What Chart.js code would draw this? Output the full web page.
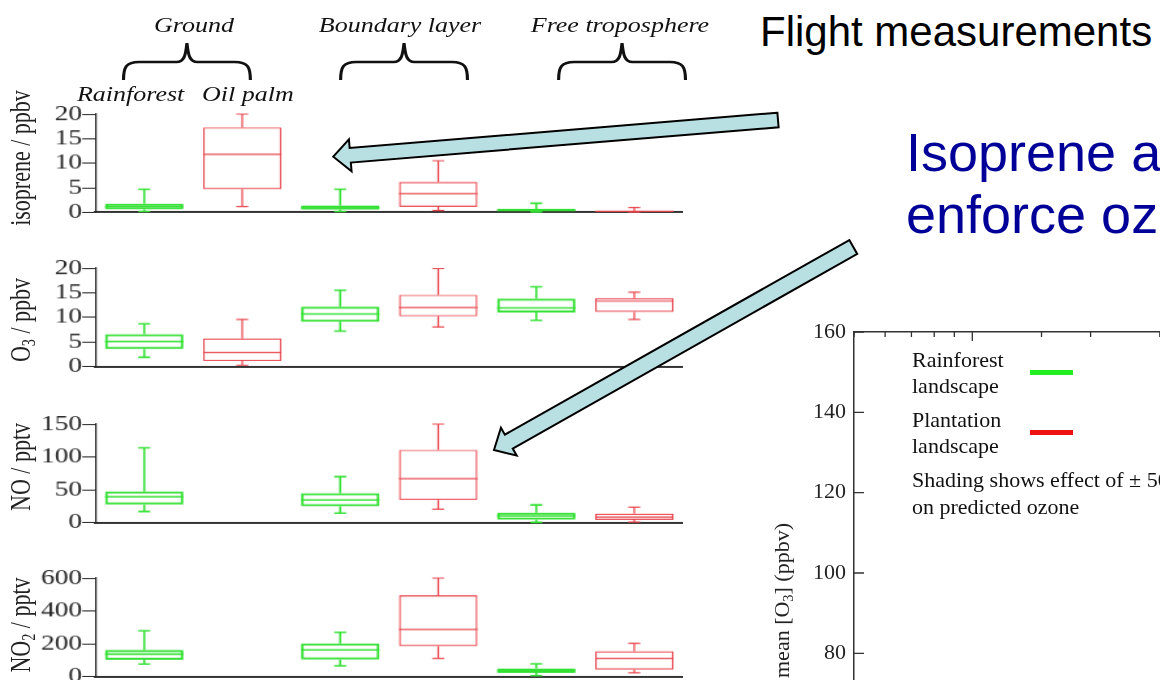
<!DOCTYPE html>
<html>
<head>
<meta charset="utf-8">
<script src="https://cdn.jsdelivr.net/npm/chart.js@4.4.1/dist/chart.umd.min.js"></script>
<style>
  html, body { margin: 0; padding: 0; background: #fff; }
  body { width: 1160px; height: 680px; position: relative; overflow: hidden; font-family: "Liberation Sans", Arial, sans-serif; }
  .serif { font-family: "Liberation Serif", "Times New Roman", serif; }
  .lbl { position: absolute; white-space: nowrap; line-height: 1; color: #111; }
  #fig { position: absolute; left: 0; top: 0; width: 554px; height: 680px; transform: scaleX(1.3); transform-origin: 0 0; }
  .panel { position: absolute; left: 0; width: 524.6px; }
  .ytitle { position: absolute; width: 200px; text-align: center; white-space: nowrap; font-size: 22px; line-height: 22px; transform-origin: 0 0; transform: rotate(-90deg); color: #222; }
  sub { font-size: 0.65em; vertical-align: -0.3em; line-height: 0; }
  #right { position: absolute; left: 700px; top: 300px; width: 557px; height: 544px; }
  .swatch { position: absolute; width: 43px; height: 5px; }
  #arrows { position: absolute; left: 0; top: 0; }
</style>
</head>
<body>

<div id="fig" class="serif">
  <div class="lbl" style="left:49.2px; top:15.25px; width:200px; text-align:center; font-size:20px; font-style:italic">Ground</div>
  <div class="lbl" style="left:207.7px; top:15.25px; width:200px; text-align:center; font-size:20px; font-style:italic">Boundary layer</div>
  <div class="lbl" style="left:376.9px; top:15.25px; width:200px; text-align:center; font-size:20px; font-style:italic">Free troposphere</div>
  <svg id="braces" width="554" height="100" style="position:absolute;left:0;top:0"></svg>
  <div class="lbl" style="left:59.2px; top:84.25px; font-size:20px; font-style:italic">Rainforest</div>
  <div class="lbl" style="left:155.4px; top:84.25px; font-size:20px; font-style:italic">Oil palm</div>

  <div class="ytitle" style="left:5.2px; top:258px">isoprene / ppbv</div>
  <div class="ytitle" style="left:5.2px; top:420px">O<sub>3</sub> / ppbv</div>
  <div class="ytitle" style="left:5.2px; top:567px">NO / pptv</div>
  <div class="ytitle" style="left:5.2px; top:725px">NO<sub>2</sub> / pptv</div>

  <div class="panel" style="top:100.3px; height:125.4px"><canvas id="c1"></canvas></div>
  <div class="panel" style="top:254.3px; height:125.7px"><canvas id="c2"></canvas></div>
  <div class="panel" style="top:410px; height:125.7px"><canvas id="c3"></canvas></div>
  <div class="panel" style="top:564.3px; height:125.7px"><canvas id="c4"></canvas></div>
</div>

<div class="lbl" style="left:760px; top:10.5px; font-size:42px; color:#000">Flight measurements</div>
<div class="lbl" style="left:906px; top:125.3px; font-size:54px; color:#000099">Isoprene and</div>
<div class="lbl" style="left:906px; top:187.3px; font-size:54px; color:#000099">enforce ozone</div>

<div id="right"><canvas id="c5"></canvas></div>
<div class="ytitle serif" style="left:771px; top:823px; width:300px; text-align:right; font-size:22px; line-height:22px">mean [O<sub>3</sub>] (ppbv)</div>
<div class="lbl serif" style="left:912px; top:346.6px; font-size:22px; line-height:26.5px">Rainforest<br>landscape</div>
<div class="swatch" id="swGreen" style="left:1030px; top:370px"></div>
<div class="lbl serif" style="left:912px; top:406.6px; font-size:22px; line-height:26.5px">Plantation<br>landscape</div>
<div class="swatch" id="swRed" style="left:1030px; top:430px"></div>
<div class="lbl serif" style="left:912px; top:467px; font-size:22px; line-height:26.5px">Shading shows effect of ± 50%<br>on predicted ozone</div>

<svg id="arrows" width="1160" height="680"></svg>

<script>
// categories: ground / boundary layer / free troposphere, each rainforest vs oil palm
const categories = ['Ground rainforest', 'Ground oil palm', 'Boundary layer rainforest', 'Boundary layer oil palm', 'Free troposphere rainforest', 'Free troposphere oil palm'];
const landscape = ['rainforest', 'oilpalm', 'rainforest', 'oilpalm', 'rainforest', 'oilpalm'];

// [min, lower quartile, median, upper quartile, max]
const isoprene = [[0.2, 0.6, 1.15, 1.8, 4.7], [1.2, 4.7, 11.8, 17.3, 20], [0.2, 0.55, 0.9, 1.4, 4.7],
                  [0.35, 1.1, 3.8, 6.2, 10.5], [0.1, 0.25, 0.4, 0.7, 1.85], [0.05, 0.1, 0.2, 0.3, 1.0]];
const ozone = [[1.9, 3.55, 5.1, 6.6, 8.7], [0.3, 1.15, 2.9, 5.7, 9.6], [7.2, 9.1, 10.7, 12.15, 15.5],
               [8.05, 10.2, 12.0, 14.6, 19.9], [9.4, 11.0, 11.9, 13.8, 16.2], [9.6, 11.1, 13.3, 13.9, 15.1]];
const no = [[17, 27.7, 39.5, 47.7, 114], null, [14.4, 25, 34.4, 45, 70],
            [20.5, 34.4, 67, 111, 150], [0.5, 4.6, 10.3, 15.4, 27], [1, 4.1, 8.7, 13.8, 23.6]];
const no2 = [[76, 102, 137, 162, 279], null, [66, 104, 162, 203, 270],
             [111, 186, 287, 496, 600], [6, 23, 37, 51, 78], [23, 43, 111, 154, 203]];

// right hand chart: no modelled lines are visible in this part of the slide
const rainforestO3 = [];
const plantationO3 = [];

const GREEN = '#33e033';
const RED = '#e8404a';
const colorOf = l => l === 'rainforest' ? GREEN : RED;

const serif = '"Liberation Serif", "Times New Roman", serif';
Chart.defaults.font.family = serif;
Chart.defaults.color = '#222';

// whiskers + median on top of the floating bars (the boxes)
const boxWhiskers = {
  id: 'boxWhiskers',
  afterDatasetsDraw(chart, args, opts) {
    const ctx = chart.ctx;
    const xs = chart.scales.x, ys = chart.scales.y;
    const bars = chart.getDatasetMeta(0).data;
    const py = v => ys.getPixelForValue(v);
    ctx.save();
    opts.stats.forEach((s, i) => {
      if (!s) return;
      const cx = xs.getPixelForValue(i);
      const half = bars[i].width / 2;
      const cap = 4.6;
      ctx.strokeStyle = colorOf(landscape[i]);
      ctx.lineWidth = landscape[i] === 'rainforest' ? 1.6 : 1.2;
      ctx.beginPath();
      ctx.moveTo(cx - half, py(s[2])); ctx.lineTo(cx + half, py(s[2]));
      ctx.moveTo(cx, py(s[3])); ctx.lineTo(cx, py(s[4]));
      ctx.moveTo(cx, py(s[1])); ctx.lineTo(cx, py(s[0]));
      ctx.moveTo(cx - cap, py(s[4])); ctx.lineTo(cx + cap, py(s[4]));
      ctx.moveTo(cx - cap, py(s[0])); ctx.lineTo(cx + cap, py(s[0]));
      ctx.stroke();
    });
    ctx.restore();
  }
};

function makePanel(id, stats, yMax, step) {
  return new Chart(document.getElementById(id), {
    type: 'bar',
    data: {
      labels: categories,
      datasets: [{
        data: stats.map(s => s ? [s[1], s[3]] : null),
        backgroundColor: 'rgba(0,0,0,0)',
        borderColor: landscape.map(colorOf),
        borderWidth: landscape.map(l => l === 'rainforest' ? 2 : 1.2),
        borderSkipped: false,
        barPercentage: 0.8,
        categoryPercentage: 1.0
      }]
    },
    options: {
      responsive: true,
      maintainAspectRatio: false,
      animation: false,
      layout: { padding: { top: 14, bottom: 14, left: 0, right: 0 } },
      plugins: { legend: { display: false }, tooltip: { enabled: false }, boxWhiskers: { stats: stats } },
      scales: {
        x: {
          ticks: { display: false },
          grid: { display: false },
          border: { display: true, color: '#333', width: 2 },
          afterFit: s => { s.height = 0; }
        },
        y: {
          min: 0, max: yMax,
          ticks: { stepSize: step, autoSkip: false, padding: 0, font: { size: 21 }, color: '#222' },
          grid: { display: true, drawOnChartArea: false, drawTicks: true, tickLength: 10, color: '#222', lineWidth: 1 },
          border: { display: true, color: '#222', width: 1.2 },
          afterFit: s => { s.width = 73.1; }
        }
      }
    },
    plugins: [boxWhiskers]
  });
}

makePanel('c1', isoprene, 20, 5);
makePanel('c2', ozone, 20, 5);
makePanel('c3', no, 150, 50);
makePanel('c4', no2, 600, 200);

// ticks pointing into the plot, as in the gnuplot-style frame
const innerTicks = {
  id: 'innerTicks',
  afterDraw(chart) {
    const { ctx, chartArea } = chart;
    const xs = chart.scales.x, ys = chart.scales.y;
    ctx.save();
    ctx.strokeStyle = '#333';
    ctx.lineWidth = 1.3;
    ctx.beginPath();
    ys.ticks.forEach(t => {
      const y = ys.getPixelForValue(t.value);
      ctx.moveTo(chartArea.left, y); ctx.lineTo(chartArea.left + 10, y);
    });
    xs.ticks.forEach(t => {
      const x = xs.getPixelForValue(t.value);
      const lg = Math.log10(t.value);
      const len = Math.abs(lg - Math.round(lg)) < 1e-9 ? 9 : 5;
      ctx.moveTo(x, chartArea.top); ctx.lineTo(x, chartArea.top + len);
    });
    ctx.stroke();
    ctx.restore();
  }
};

new Chart(document.getElementById('c5'), {
  type: 'line',
  data: {
    datasets: [
      { label: 'Rainforest landscape', data: rainforestO3, borderColor: '#22ee22', borderWidth: 5, pointRadius: 0 },
      { label: 'Plantation landscape', data: plantationO3, borderColor: '#ee1111', borderWidth: 5, pointRadius: 0 }
    ]
  },
  options: {
    responsive: true,
    maintainAspectRatio: false,
    animation: false,
    layout: { padding: { top: 32, right: 10, left: 0, bottom: 0 } },
    plugins: { legend: { display: false }, tooltip: { enabled: false } },
    scales: {
      x: {
        type: 'logarithmic', min: 0.5, max: 5,
        ticks: { display: false, autoSkip: false },
        grid: { display: false },
        border: { display: true, color: '#333', width: 1.5 },
        afterFit: s => { s.height = 30; }
      },
      x2: {
        type: 'logarithmic', position: 'top', min: 0.5, max: 5,
        ticks: { display: false },
        grid: { display: false },
        border: { display: true, color: '#333', width: 1.5 },
        afterFit: s => { s.height = 0; }
      },
      y: {
        min: 40, max: 160,
        ticks: { stepSize: 20, autoSkip: false, padding: 8, font: { size: 22 }, color: '#222' },
        grid: { display: false, drawTicks: false },
        border: { display: true, color: '#333', width: 1.5 },
        afterFit: s => { s.width = 154; }
      }
    }
  },
  plugins: [innerTicks]
});

document.getElementById('swGreen').style.background = '#22ee22';
document.getElementById('swRed').style.background = '#ee1111';

// curly braces over the three altitude groups
const NS = 'http://www.w3.org/2000/svg';
const braceCentres = [143.8, 310.8, 478.5];
const braces = document.getElementById('braces');
braceCentres.forEach(c => {
  const w = 48.8;
  const d = `M${c - w},80 C${c - w},67 ${c - w + 2},62 ${c - w + 12},62 L${c - 8},62 C${c - 2},62 ${c - 1},55 ${c},43 ` +
            `C${c + 1},55 ${c + 2},62 ${c + 8},62 L${c + w - 12},62 C${c + w - 2},62 ${c + w},67 ${c + w},80`;
  const p = document.createElementNS(NS, 'path');
  p.setAttribute('d', d);
  p.setAttribute('fill', 'none');
  p.setAttribute('stroke', '#111');
  p.setAttribute('stroke-width', '2.4');
  braces.appendChild(p);
});

// block arrows of the slide
function arrow(tx, ty, hx, hy, sw, hw, hl) {
  const dx = hx - tx, dy = hy - ty, len = Math.hypot(dx, dy);
  const ux = dx / len, uy = dy / len, nx = -uy, ny = ux;
  const bx = hx - ux * hl, by = hy - uy * hl;
  const pts = [
    [tx + nx * sw, ty + ny * sw], [bx + nx * sw, by + ny * sw], [bx + nx * hw, by + ny * hw],
    [hx, hy],
    [bx - nx * hw, by - ny * hw], [bx - nx * sw, by - ny * sw], [tx - nx * sw, ty - ny * sw]
  ];
  const poly = document.createElementNS(NS, 'polygon');
  poly.setAttribute('points', pts.map(p => p.join(',')).join(' '));
  poly.setAttribute('fill', '#b8dfe2');
  poly.setAttribute('stroke', '#000');
  poly.setAttribute('stroke-width', '2');
  poly.setAttribute('stroke-linejoin', 'miter');
  document.getElementById('arrows').appendChild(poly);
}
arrow(778, 120, 333.3, 156.7, 7.3, 16, 17);
arrow(853.3, 247, 494, 450, 8, 16, 17);
</script>
</body>
</html>
